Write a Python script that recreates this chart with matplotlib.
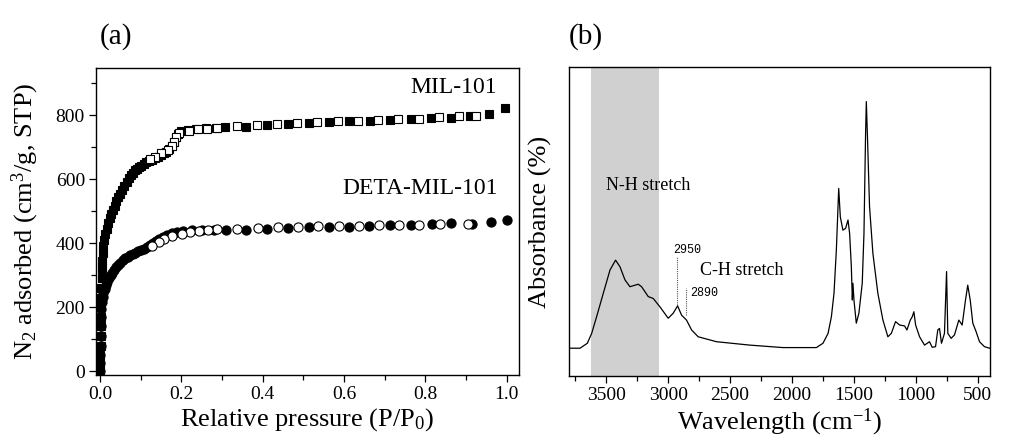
import matplotlib
matplotlib.use("Agg")
import matplotlib.pyplot as plt
from matplotlib.ticker import MultipleLocator, FormatStrFormatter

plt.rcParams['font.family'] = ['Liberation Serif', 'DejaVu Serif']
plt.rcParams['mathtext.fontset'] = 'custom'
plt.rcParams['mathtext.rm'] = 'Liberation Serif'
plt.rcParams['mathtext.it'] = 'Liberation Serif:italic'
plt.rcParams['mathtext.bf'] = 'Liberation Serif:bold'

# ---------------- (a) N2 isotherms ----------------
mil_ads_p = [0.001, 0.001, 0.001, 0.0015, 0.0015, 0.002, 0.002, 0.0025, 0.003, 0.003,
             0.0035, 0.004, 0.005, 0.006, 0.008, 0.010, 0.013, 0.016, 0.020, 0.024,
             0.028, 0.032, 0.036, 0.040, 0.045, 0.050, 0.055, 0.060, 0.065, 0.070,
             0.075, 0.080, 0.085, 0.090, 0.095, 0.100, 0.107, 0.114, 0.121, 0.128,
             0.135, 0.142, 0.149, 0.156, 0.163, 0.170, 0.176, 0.181, 0.186, 0.192,
             0.200, 0.215, 0.235, 0.260, 0.285,
             0.308, 0.360, 0.410, 0.463, 0.514, 0.563, 0.612, 0.663, 0.714, 0.765,
             0.814, 0.864, 0.909, 0.956, 0.995]
mil_ads_v = [0, 25, 50, 80, 110, 140, 170, 200, 230, 260,
             290, 320, 345, 370, 392, 410, 428, 445, 462, 478,
             491, 503, 516, 530, 543, 553, 565, 577, 590, 602,
             612, 620, 627, 633, 638, 642, 647, 652, 657, 661,
             666, 670, 675, 680, 686, 693, 703, 716, 730, 742,
             750, 753, 756, 759, 761,
             763, 764, 770, 773, 776, 778, 781, 783, 785, 788,
             791, 792, 796, 802, 823]
mil_des_p = [0.925, 0.883, 0.834, 0.783, 0.733, 0.683, 0.634, 0.584, 0.533, 0.484,
             0.434, 0.385, 0.336, 0.288, 0.264, 0.241, 0.219, 0.194, 0.186, 0.182,
             0.178, 0.168, 0.151, 0.135, 0.123]
mil_des_v = [798, 796, 793, 789, 787, 785, 782, 781, 777, 775,
             772, 770, 766, 761, 758, 755, 751, 745, 731, 717,
             703, 691, 682, 670, 662]

deta_ads_p = [0.001, 0.001, 0.001, 0.0015, 0.002, 0.002, 0.0025, 0.003, 0.004, 0.006,
              0.008, 0.011, 0.014, 0.018, 0.022, 0.026, 0.030, 0.035, 0.040, 0.045,
              0.050, 0.056, 0.062, 0.068, 0.074, 0.080, 0.087, 0.094, 0.101, 0.108,
              0.115, 0.122, 0.130, 0.138, 0.146, 0.155, 0.165, 0.176, 0.190, 0.205,
              0.225, 0.250, 0.280,
              0.310, 0.360, 0.410, 0.463, 0.514, 0.563, 0.612, 0.661, 0.714, 0.765,
              0.815, 0.864, 0.915, 0.961, 1.000]
deta_ads_v = [0, 25, 50, 80, 110, 140, 170, 195, 215, 232,
              245, 258, 268, 280, 291, 300, 307, 316, 324, 332,
              339, 346, 352, 357, 362, 366, 370, 374, 378, 383,
              388, 393, 400, 407, 414, 420, 426, 431, 435, 438,
              440, 440, 440,
              441, 442, 445, 448, 450, 450, 451, 453, 456, 458,
              459, 462, 461, 466, 473]
deta_des_p = [0.905, 0.836, 0.785, 0.736, 0.685, 0.636, 0.587, 0.536, 0.487, 0.437,
              0.388, 0.337, 0.288, 0.266, 0.244, 0.221, 0.201, 0.177, 0.156, 0.144,
              0.128]
deta_des_v = [461, 460, 458, 457, 456, 455, 454, 453, 451, 451,
              448, 445, 443, 441, 439, 435, 429, 422, 414, 405,
              392]

# ---------------- (b) FT-IR spectrum ----------------
wavenumber = [3800, 3711, 3652, 3617, 3577, 3523, 3469, 3424, 3389, 3348,
              3308, 3241, 3214, 3160, 3120, 3066, 2999, 2959, 2923, 2891,
              2851, 2810, 2757, 2609, 2340, 2072, 1802, 1749, 1708, 1681,
              1660, 1641, 1622, 1609, 1588, 1566, 1547, 1534, 1520, 1512,
              1507, 1499, 1480, 1459, 1432, 1418, 1405, 1399, 1389, 1373,
              1346, 1306, 1265, 1225, 1197, 1163, 1130, 1090, 1071, 1044,
              1028, 1015, 1001, 969, 929, 889, 867, 840, 822, 808,
              792, 768, 751, 741, 714, 687, 652, 625, 598, 580,
              560, 539, 512, 485, 445, 404]
absorbance = [0.090, 0.090, 0.106, 0.138, 0.192, 0.268, 0.343, 0.375, 0.354, 0.311,
              0.289, 0.297, 0.289, 0.257, 0.251, 0.224, 0.187, 0.203, 0.227, 0.197,
              0.181, 0.149, 0.127, 0.111, 0.100, 0.092, 0.092, 0.106, 0.138, 0.192,
              0.268, 0.408, 0.607, 0.515, 0.472, 0.478, 0.505, 0.462, 0.354, 0.246,
              0.300, 0.246, 0.171, 0.203, 0.300, 0.462, 0.785, 0.888, 0.764, 0.548,
              0.397, 0.268, 0.181, 0.127, 0.138, 0.176, 0.165, 0.162, 0.149, 0.181,
              0.192, 0.208, 0.165, 0.127, 0.100, 0.111, 0.093, 0.095, 0.149, 0.154,
              0.106, 0.138, 0.338, 0.138, 0.122, 0.133, 0.181, 0.165, 0.246, 0.294,
              0.246, 0.171, 0.143, 0.111, 0.095, 0.090]
band_range = (3623, 3075)
peak_marks = [2925, 2852]
peak_mark_tops = [0.386, 0.284]
peak_mark_bottoms = [0.230, 0.197]
peak_labels = ['2950', '2890']
peak_label_pos = [(2959, 0.408), (2819, 0.268)]

fig = plt.figure(figsize=(10.15, 4.43), dpi=100)
ax1 = fig.add_axes([0.0946, 0.1535, 0.4167, 0.693])
ax2 = fig.add_axes([0.5606, 0.1512, 0.4148, 0.6976])

ms_sq = 6.0
ms_ci = 6.6
ax1.plot(mil_ads_p, mil_ads_v, 's', ms=ms_sq, mfc='black', mec='black', mew=0.8, zorder=3)
ax1.plot(mil_des_p, mil_des_v, 's', ms=ms_sq, mfc='white', mec='black', mew=0.8, zorder=4)
ax1.plot(deta_ads_p, deta_ads_v, 'o', ms=ms_ci, mfc='black', mec='black', mew=0.8, zorder=3)
ax1.plot(deta_des_p, deta_des_v, 'o', ms=ms_ci, mfc='white', mec='black', mew=0.8, zorder=4)

ax1.set_xlim(-0.01, 1.03)
ax1.set_ylim(-12, 947)
ax1.xaxis.set_major_locator(MultipleLocator(0.2))
ax1.xaxis.set_minor_locator(MultipleLocator(0.1))
ax1.xaxis.set_major_formatter(FormatStrFormatter('%.1f'))
ax1.yaxis.set_major_locator(MultipleLocator(200))
ax1.yaxis.set_minor_locator(MultipleLocator(100))
ax1.text(0.975, 887, 'MIL-101', ha='right', va='center', fontsize=17)
ax1.text(0.978, 572, 'DETA-MIL-101', ha='right', va='center', fontsize=17)
ax1.set_xlabel('Relative pressure (P/P$_0$)', fontsize=19, labelpad=2)
ax1.set_ylabel('N$_2$ adsorbed (cm$^3$/g, STP)', fontsize=19)
ax1.yaxis.set_label_coords(-0.13, 0.5)

ax2.axvspan(band_range[0], band_range[1], color='#d0d0d0', lw=0, zorder=0)
ax2.plot(wavenumber, absorbance, color='black', lw=0.9, zorder=3)
for x, t, b in zip(peak_marks, peak_mark_tops, peak_mark_bottoms):
    ax2.plot([x, x], [b, t], color='#555555', lw=0.8, ls=(0, (1, 1)), zorder=2)
for lab, (x, y) in zip(peak_labels, peak_label_pos):
    ax2.text(x, y, lab, ha='left', va='center', fontsize=8.5,
             family=['Liberation Mono', 'DejaVu Sans Mono'])
ax2.text(3163, 0.618, 'N-H stretch', ha='center', va='center', fontsize=13)
ax2.text(2405, 0.343, 'C-H stretch', ha='center', va='center', fontsize=13)
ax2.set_xlim(3800, 400)
ax2.set_ylim(0, 1)
ax2.xaxis.set_major_locator(MultipleLocator(500))
ax2.xaxis.set_minor_locator(MultipleLocator(250))
ax2.set_yticks([])
ax2.set_xlabel('Wavelength (cm$^{\\mathregular{-1}}$)', fontsize=19, labelpad=2)
ax2.set_ylabel('Absorbance (%)', fontsize=19)
ax2.yaxis.set_label_coords(-0.04, 0.5)

for ax in (ax1, ax2):
    for s in ax.spines.values():
        s.set_linewidth(1.0)
    ax.tick_params(which='both', direction='out', top=False, right=False,
                   labelsize=14, width=0.9, pad=3)
    ax.tick_params(which='major', length=5)
    ax.tick_params(which='minor', length=3.5)

fig.text(0.0985, 0.9165, '(a)', fontsize=21, ha='left', va='center')
fig.text(0.5606, 0.9165, '(b)', fontsize=21, ha='left', va='center')

fig.savefig('out.png', dpi=100)
